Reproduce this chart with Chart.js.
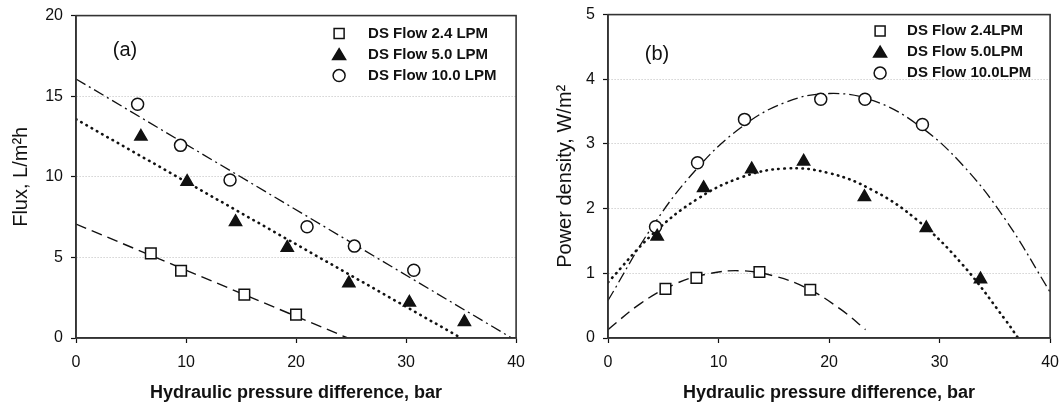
<!DOCTYPE html>
<html>
<head>
<meta charset="utf-8">
<script src="https://cdn.jsdelivr.net/npm/chart.js@4.4.1/dist/chart.umd.min.js"></script>
<style>
    html, body { margin: 0; background: #fff; overflow: hidden; }
    #wrap { position: relative; width: 1061px; height: 406px; overflow: hidden; }
    #fluxChart { position: absolute; left: 0; top: -2px; }
    #powerChart { position: absolute; left: 530px; top: -3px; }
</style>
</head>
<body>
<div id="wrap">
    <canvas id="fluxChart" width="535" height="408"></canvas>
    <canvas id="powerChart" width="539" height="409"></canvas>
</div>
<script>
// Tick labels
const xTicks = [0, 10, 20, 30, 40];
const fluxTicks = [0, 5, 10, 15, 20];
const powerTicks = [0, 1, 2, 3, 4, 5];

// (a) Flux vs hydraulic pressure difference
const flux24X = [6.8, 9.55, 15.3, 20.0];
const flux24Y = [5.25, 4.17, 2.69, 1.45];
const flux50X = [5.9, 10.1, 14.5, 19.2, 24.8, 30.3, 35.3];
const flux50Y = [12.5, 9.7, 7.2, 5.6, 3.4, 2.2, 1.0];
const flux100X = [5.6, 9.5, 14.0, 21.0, 25.3, 30.7];
const flux100Y = [14.5, 11.95, 9.8, 6.9, 5.7, 4.2];

// (a) trend lines (end points)
const fluxFit24X = [0, 24.7];
const fluxFit24Y = [7.07, 0];
const fluxFit50X = [0, 35.0];
const fluxFit50Y = [13.57, 0];
const fluxFit100X = [0, 39.6];
const fluxFit100Y = [16.07, 0];

// (b) Power density vs hydraulic pressure difference
const pow24X = [5.2, 8.0, 13.7, 18.3];
const pow24Y = [0.76, 0.93, 1.02, 0.745];
const pow50X = [4.45, 8.65, 13.0, 17.7, 23.2, 28.8, 33.7];
const pow50Y = [1.57, 2.32, 2.61, 2.73, 2.18, 1.70, 0.91];
const pow100X = [4.3, 8.1, 12.35, 19.25, 23.25, 28.45];
const pow100Y = [1.72, 2.71, 3.38, 3.69, 3.69, 3.30];

// (b) fitted curves
const powFit24X = [0, 3, 6, 9, 12, 15, 18, 21, 23.3];
const powFit24Y = [0.13, 0.54, 0.83, 0.99, 1.04, 0.96, 0.77, 0.45, 0.13];
const powFit50X = [0, 4, 8, 12, 16, 20, 24, 28, 32, 36, 37.1];
const powFit50Y = [0.86, 1.60, 2.14, 2.48, 2.62, 2.55, 2.28, 1.82, 1.15, 0.27, 0];
const powFit100X = [0, 4, 8, 12, 16, 20, 24, 28, 32, 36, 40];
const powFit100Y = [0.58, 1.72, 2.61, 3.25, 3.64, 3.78, 3.67, 3.30, 2.69, 1.82, 0.71];

const fluxLegend = ['DS Flow 2.4 LPM', 'DS Flow 5.0 LPM', 'DS Flow 10.0 LPM'];
const powerLegend = ['DS Flow 2.4LPM', 'DS Flow 5.0LPM', 'DS Flow 10.0LPM'];

const FONT = "'Liberation Sans', Arial, sans-serif";
const INK = '#111';

function pts(xs, ys) {
    return xs.map((x, i) => ({ x: x, y: ys[i] }));
}

function markers(xs, ys, style) {
    const isTri = style === 'triangle';
    return {
        data: pts(xs, ys),
        showLine: false,
        pointStyle: style,
        pointRadius: style === 'rect' ? 7.5 : (isTri ? 7 : 6),
        pointBorderWidth: 1.5,
        pointBorderColor: INK,
        pointBackgroundColor: isTri ? INK : '#fff',
        order: 0
    };
}

function trend(xs, ys, dash, width, curved) {
    return {
        data: pts(xs, ys),
        showLine: true,
        borderColor: INK,
        borderWidth: width,
        borderDash: dash,
        borderCapStyle: dash[0] < 2 ? 'round' : 'butt',
        pointRadius: 0,
        tension: curved ? 0.4 : 0,
        order: 1
    };
}

const DASHED = [11, 6];
const DOTTED = [0.5, 5.5];
const DASHDOT = [11, 4, 2, 4];

// frame, panel label and legend drawn inside the plot
// pos: [tag dx, tag dy, marker dx from right, text dx from right, first row dy]
function panelPlugin(tag, labels, pos) {
    return {
        id: 'panel',
        afterDraw(chart) {
            const c = chart.ctx;
            const a = chart.chartArea;
            c.save();
            c.strokeStyle = '#333';
            c.lineWidth = 1.6;
            c.strokeRect(a.left, a.top, a.right - a.left, a.bottom - a.top);

            c.fillStyle = INK;
            c.font = '20px ' + FONT;
            c.textBaseline = 'middle';
            c.textAlign = 'center';
            c.fillText(tag, a.left + pos[0], a.top + pos[1]);

            const styles = ['rect', 'triangle', 'circle'];
            const mx = a.right - pos[2];
            const tx = a.right - pos[3];
            styles.forEach((s, i) => {
                const y = a.top + pos[4] + i * 21;
                c.lineWidth = 1.5;
                c.strokeStyle = INK;
                c.fillStyle = s === 'triangle' ? INK : '#fff';
                c.beginPath();
                if (s === 'rect') {
                    c.rect(mx - 5, y - 5, 10, 10);
                } else if (s === 'triangle') {
                    c.moveTo(mx, y - 6);
                    c.lineTo(mx + 6.5, y + 5);
                    c.lineTo(mx - 6.5, y + 5);
                    c.closePath();
                } else {
                    c.arc(mx, y, 6, 0, Math.PI * 2);
                }
                c.fill();
                c.stroke();
                c.fillStyle = INK;
                c.font = 'bold 15px ' + FONT;
                c.textAlign = 'left';
                c.fillText(labels[i], tx, y);
            });
            c.restore();
        }
    };
}

function makeChart(id, datasets, yTicks, yMax, yTitle, yTitlePad, yWidth, tag, labels, pos) {
    const ctx = document.getElementById(id).getContext('2d');
    return new Chart(ctx, {
        type: 'scatter',
        data: { datasets: datasets },
        options: {
            responsive: false,
            animation: false,
            layout: { padding: 0 },
            plugins: {
                legend: { display: false },
                tooltip: { enabled: false }
            },
            scales: {
                x: {
                    type: 'linear',
                    min: 0,
                    max: 40,
                    afterBuildTicks: s => { s.ticks = xTicks.map(v => ({ value: v })); },
                    afterFit: s => { s.height = 68; },
                    grid: {
                        drawOnChartArea: false,
                        drawTicks: true,
                        tickLength: 5,
                        tickColor: INK,
                        tickWidth: 1.2
                    },
                    border: { color: '#333', width: 1.6 },
                    ticks: {
                        color: INK,
                        padding: 10,
                        maxRotation: 0,
                        font: { family: FONT, size: 16 }
                    },
                    title: {
                        display: true,
                        text: 'Hydraulic pressure difference, bar',
                        color: INK,
                        padding: { top: 0, bottom: 2 },
                        font: { family: FONT, size: 18, weight: 'bold' }
                    }
                },
                y: {
                    type: 'linear',
                    min: 0,
                    max: yMax,
                    afterBuildTicks: s => { s.ticks = yTicks.map(v => ({ value: v })); },
                    afterFit: s => { s.width = yWidth; },
                    grid: {
                        color: c => (c.tick.value === 0 || c.tick.value === yMax) ? 'rgba(0,0,0,0)' : '#bdbdbd',
                        lineWidth: 1,
                        drawTicks: true,
                        tickLength: 5,
                        tickColor: INK,
                        tickWidth: 1.2,
                        tickBorderDash: []
                    },
                    border: { color: '#333', width: 1.6, dash: [1, 2] },
                    ticks: {
                        color: INK,
                        padding: 8,
                        font: { family: FONT, size: 16 }
                    },
                    title: {
                        display: true,
                        text: yTitle,
                        color: INK,
                        padding: { top: yTitlePad, bottom: 0 },
                        font: { family: FONT, size: 20 }
                    }
                }
            }
        },
        plugins: [panelPlugin(tag, labels, pos)]
    });
}

document.addEventListener('DOMContentLoaded', function() {
    makeChart('fluxChart', [
        markers(flux24X, flux24Y, 'rect'),
        markers(flux50X, flux50Y, 'triangle'),
        markers(flux100X, flux100Y, 'circle'),
        trend(fluxFit24X, fluxFit24Y, DASHED, 1.4, false),
        trend(fluxFit50X, fluxFit50Y, DOTTED, 2.6, false),
        trend(fluxFit100X, fluxFit100Y, DASHDOT, 1.3, false)
    ], fluxTicks, 20, 'Flux, L/m\u00b2h', 9, 76, '(a)', fluxLegend, [49, 35, 177, 148, 18]);

    makeChart('powerChart', [
        markers(pow24X, pow24Y, 'rect'),
        markers(pow50X, pow50Y, 'triangle'),
        markers(pow100X, pow100Y, 'circle'),
        trend(powFit24X, powFit24Y, DASHED, 1.4, true),
        trend(powFit50X, powFit50Y, DOTTED, 2.6, true),
        trend(powFit100X, powFit100Y, DASHDOT, 1.3, true)
    ], powerTicks, 5, 'Power density, W/m\u00b2', 23, 78, '(b)', powerLegend, [49, 40, 170, 143, 16.5]);
});
</script>
</body>
</html>
